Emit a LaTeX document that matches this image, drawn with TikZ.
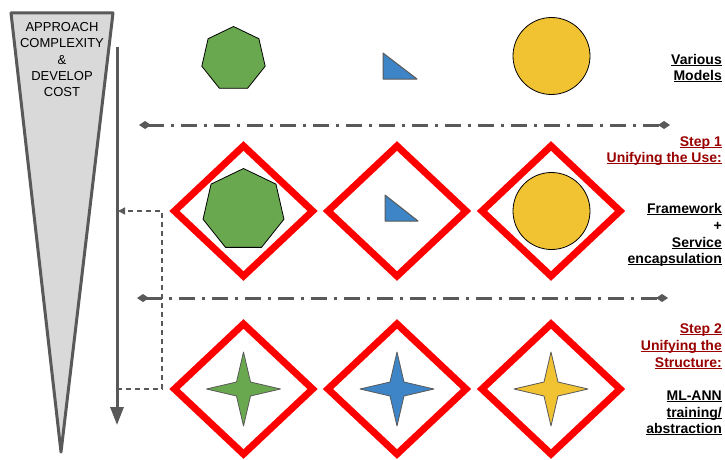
\documentclass[tikz,border=0pt]{standalone}
\usepackage{fontspec}
\setmainfont{Liberation Sans}
\usetikzlibrary{shapes.geometric,arrows.meta}
\definecolor{dgray}{HTML}{595959}
\definecolor{lgray}{HTML}{D9D9D9}
\definecolor{mgreen}{HTML}{6AA84F}
\definecolor{mblue}{HTML}{3D85C6}
\definecolor{myellow}{HTML}{F1C232}
\definecolor{dred}{HTML}{990000}
\newcommand\myul[1]{\setbox0\hbox{#1}\rlap{\rule[-2.4pt]{\wd0}{1.4pt}}\box0}
\begin{document}
\begin{tikzpicture}[x=1pt,y=-1pt,
  frame/.style={diamond, draw=red, line width=7pt, minimum width=141pt, minimum height=133pt, inner sep=0pt},
  hepta/.style={regular polygon, regular polygon sides=7, fill=mgreen, draw=black, line width=0.8pt, inner sep=0pt},
  disc/.style={circle, fill=myellow, draw=black, line width=0.8pt, inner sep=0pt},
  tri/.style={fill=mblue, draw=dgray, line width=1pt, line join=round},
  starshape/.style={draw=dgray, line width=0.8pt, line join=round},
  sep/.style={draw=dgray, line width=3pt, dash pattern=on 16pt off 7pt on 3pt off 7pt,
     {Diamond[width=8pt,length=12pt]}-{Diamond[width=8pt,length=12pt]}},
  rtext/.style={anchor=base east, inner sep=0pt, font=\fontsize{14}{17}\selectfont\bfseries},
  ltext/.style={anchor=base, inner sep=0pt, font=\fontsize{13}{16}\selectfont}]
\fill[white] (0,0) rectangle (725,460);
\useasboundingbox (0,0) rectangle (725,460);

% cost wedge
\draw[fill=lgray, draw=dgray, line width=3pt, line join=round] (11,13) -- (113,13) -- (61,452) -- cycle;
\node[ltext] (t1) at (62,32) {APPROACH};
\node[ltext] (t2) at (62,48) {COMPLEXITY};
\node[ltext] (t3) at (62,64) {\&};
\node[ltext] (t4) at (62,80) {DEVELOP};
\node[ltext] (t5) at (62,96) {COST};

% main arrow
\coordinate (mtop) at (117,47);
\coordinate (mbot) at (117,425);
\draw[dgray, line width=3pt, -{Triangle[width=13pt,length=18pt]}] (mtop) -- (mbot);

% dashed feedback
\coordinate (fb1) at (117,389);
\coordinate (fb2) at (162,389);
\coordinate (fb3) at (162,211);
\coordinate (fb4) at (118,211);
\draw[dgray, line width=1.5pt, dash pattern=on 5pt off 4pt, -{Triangle[width=7pt,length=7pt]}] (fb1) -- (fb2) -- (fb3) -- (fb4);

% separators
\coordinate (s1a) at (139,125); \coordinate (s1b) at (670,125);
\coordinate (s2a) at (137,298); \coordinate (s2b) at (668,298);
\draw[sep] (s1a) -- (s1b);
\draw[sep] (s2a) -- (s2b);

% row 0 : various models
\node[hepta, minimum size=65pt] (h0) at (233.5,59) {};
\draw[tri] (383,53) -- (383,79) -- (417,79) -- cycle;
\node[disc, minimum size=77pt] (c0) at (551.5,56) {};

% row 1
\node[frame] (f11) at (243.5,211) {};
\node[frame] (f12) at (397,211) {};
\node[frame] (f13) at (551,211) {};
\node[hepta, minimum size=83pt] (h1) at (243.5,210) {};
\draw[tri] (385,195) -- (385,221) -- (418,221) -- cycle;
\node[disc, minimum size=77pt] (c1) at (551.5,211) {};

% row 2
\node[frame] (f21) at (243.5,389) {};
\node[frame] (f22) at (397,389) {};
\node[frame] (f23) at (551,389) {};
\foreach \cx/\col in {243.5/mgreen, 397/mblue, 551/myellow}{
  \draw[starshape, fill=\col, shift={(\cx,389)}] (0,-37) -- (7,-7) -- (37,0) -- (7,7) -- (0,37) -- (-7,7) -- (-37,0) -- (-7,-7) -- cycle;
}

% right texts
\node[rtext] (r1) at (722,64) {\myul{Various}};
\node[rtext] (r2) at (722,80) {\myul{Models}};
\node[rtext, text=dred] (r3) at (722,146) {\myul{Step 1}};
\node[rtext, text=dred] (r4) at (722,162) {\myul{Unifying the Use:}};
\node[rtext] (r5) at (722,213) {\myul{Framework}};
\node[rtext] (r6) at (722,230) {+};
\node[rtext] (r7) at (722,247) {\myul{Service}};
\node[rtext] (r8) at (722,263) {\myul{encapsulation}};
\node[rtext, text=dred] (r9) at (722,333) {\myul{Step 2}};
\node[rtext, text=dred] (r10) at (722,350) {\myul{Unifying the}};
\node[rtext, text=dred] (r11) at (722,367) {\myul{Structure:}};
\node[rtext] (r12) at (722,400) {\myul{ML-ANN}};
\node[rtext] (r13) at (722,417) {\myul{training/}};
\node[rtext] (r14) at (722,433) {\myul{abstraction}};
\end{tikzpicture}
\end{document}
